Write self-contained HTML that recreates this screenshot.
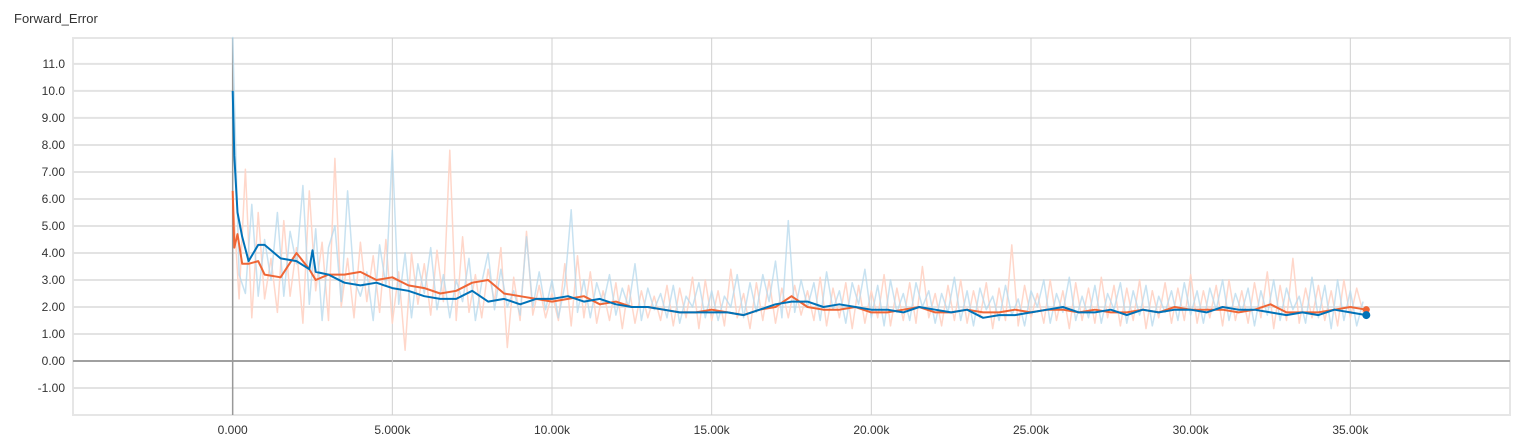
<!DOCTYPE html>
<html><head><meta charset="utf-8"><style>
body{margin:0;background:#fff;font-family:"Liberation Sans",sans-serif;}
svg text{font-family:"Liberation Sans",sans-serif;fill:#333;}
</style></head><body>
<svg id="c" width="1518" height="441" xmlns="http://www.w3.org/2000/svg">
<text x="14" y="23" font-size="13">Forward_Error</text>
<g id="grid"></g><g id="marks"></g><g id="labels"></g>
</svg>
<script>
const yTicks=[-1,0,1,2,3,4,5,6,7,8,9,10,11];
const yTickLabels=["-1.00","0.00","1.00","2.00","3.00","4.00","5.00","6.00","7.00","8.00","9.00","10.0","11.0"];
const xTicks=[0,5000,10000,15000,20000,25000,30000,35000];
const xTickLabels=["0.000","5.000k","10.00k","15.00k","20.00k","25.00k","30.00k","35.00k"];
const rawStep=200;
const rawBlue=[12,3.2,2.5,5.8,2.4,4.5,3.0,5.5,2.4,4.8,
3.6,6.5,2.1,4.9,1.5,4.2,5.0,2.2,6.3,3.0,
2.4,3.3,1.5,4.3,2.8,7.8,2.1,4.0,1.6,3.6,
2.5,4.2,1.9,3.2,1.6,3.0,2.2,3.8,1.5,2.9,
4.0,1.9,3.4,2.0,2.6,1.7,4.6,2.0,3.3,1.9,
3.0,1.6,2.8,5.6,1.8,3.0,1.6,2.9,2.1,3.2,
1.7,2.7,2.0,3.6,1.5,2.7,1.9,2.5,1.6,2.8,
1.4,2.4,2.0,2.9,1.6,2.6,1.5,2.4,2.0,3.2,
1.6,2.9,1.8,3.2,2.2,3.7,1.6,5.2,1.8,3.0,
2.0,2.9,1.5,3.3,1.9,2.6,1.4,2.9,2.1,3.4,
1.6,2.8,1.3,3.0,1.8,2.5,1.5,2.9,2.0,2.6,
1.4,2.5,1.8,3.1,1.5,2.6,1.3,2.7,1.9,2.4,
1.5,2.8,1.7,2.3,1.3,2.6,2.0,3.0,1.4,2.5,
1.8,3.1,1.5,2.4,1.6,2.8,1.4,2.5,1.9,2.9,
1.4,2.6,1.7,2.8,1.3,2.4,1.8,2.6,1.5,2.9,
1.7,2.6,1.4,2.7,1.9,3.0,1.5,2.5,1.8,2.7,
1.3,2.6,1.7,3.0,1.5,2.7,1.9,2.4,1.4,3.1,
1.6,2.8,1.2,3.0,1.5,2.6,1.3,2.2];
const rawOrange=[6.2,2.3,7.1,1.6,5.5,2.3,3.8,1.8,5.2,2.4,
4.2,1.4,6.3,2.6,4.4,1.5,7.5,2.0,3.8,1.6,
4.4,2.2,3.9,1.8,4.5,1.4,3.3,0.4,4.0,2.1,
3.6,1.7,4.1,2.2,7.8,1.5,4.6,1.8,3.2,1.6,
3.4,2.2,4.2,0.5,3.1,1.5,4.8,1.7,2.8,1.6,
2.5,1.5,3.6,1.3,3.9,1.6,3.3,1.4,2.6,1.5,
2.9,1.2,2.8,1.4,2.6,1.6,2.4,1.5,2.8,1.3,
2.7,1.6,3.1,1.2,3.0,1.5,2.6,1.3,3.4,1.6,
2.5,1.2,2.9,1.5,3.0,1.4,2.7,1.6,2.8,1.7,
2.6,1.5,3.1,1.3,2.7,1.6,2.9,1.2,2.8,1.4,
2.6,1.6,3.2,1.3,2.7,1.5,2.9,1.4,3.5,1.6,
2.5,1.3,2.8,1.5,3.0,1.4,2.6,1.6,2.9,1.2,
2.7,1.5,4.3,1.3,2.8,1.6,2.5,1.4,3.0,1.5,
2.6,1.2,2.9,1.5,2.7,1.4,3.1,1.6,2.8,1.3,
2.7,1.5,3.0,1.2,2.6,1.6,2.9,1.4,2.7,1.5,
3.2,1.4,2.6,1.6,2.8,1.3,3.0,1.5,2.6,1.4,
2.9,1.6,3.3,1.2,2.8,1.5,3.8,1.4,2.7,1.6,
2.8,1.5,2.6,1.3,3.0,1.6,2.7,1.8];
const smoothSteps=[0,50,150,300,500,800,1000,1500,2000,2400,2500,2600,3000,3500,4000,4500,5000,5500,6000,6500,7000,7500,8000,8500,9000,9500,10000,10500,11000,11500,12000,12500,13000,13500,14000,14500,15000,15500,16000,16500,17000,17500,18000,18500,19000,19500,20000,20500,21000,21500,22000,22500,23000,23500,24000,24500,25000,25500,26000,26500,27000,27500,28000,28500,29000,29500,30000,30500,31000,31500,32000,32500,33000,33500,34000,34500,35000,35500];
const smoothBlue=[10.0,7.6,5.5,4.6,3.7,4.3,4.3,3.8,3.7,3.4,4.1,3.3,3.2,2.9,2.8,2.9,2.7,2.6,2.4,2.3,2.3,2.6,2.2,2.3,2.1,2.3,2.3,2.4,2.2,2.3,2.1,2.0,2.0,1.9,1.8,1.8,1.8,1.8,1.7,1.9,2.1,2.2,2.2,2.0,2.1,2.0,1.9,1.9,1.8,2.0,1.9,1.8,1.9,1.6,1.7,1.7,1.8,1.9,2.0,1.8,1.8,1.9,1.7,1.9,1.8,1.9,1.9,1.8,2.0,1.9,1.9,1.8,1.7,1.8,1.7,1.9,1.8,1.7];
const smoothOrange=[6.3,4.2,4.7,3.6,3.6,3.7,3.2,3.1,4.0,3.4,3.2,3.0,3.2,3.2,3.3,3.0,3.1,2.8,2.7,2.5,2.6,2.9,3.0,2.5,2.4,2.3,2.2,2.3,2.4,2.1,2.2,2.0,2.0,1.9,1.8,1.8,1.9,1.8,1.7,1.9,2.0,2.4,2.0,1.9,1.9,2.0,1.8,1.8,1.9,2.0,1.8,1.8,1.9,1.8,1.8,1.9,1.8,1.9,1.9,1.8,1.9,1.8,1.8,1.9,1.8,2.0,1.9,1.9,1.9,1.8,1.9,2.1,1.8,1.8,1.8,1.9,2.0,1.9];
const L=73,R=1510,T=38,B=415,X0=-5000,X1=40000,Y0=-2,Y1=11.96;
const sx=v=>L+(v-X0)/(X1-X0)*(R-L);
const sy=v=>B-(v-Y0)/(Y1-Y0)*(B-T);
const NS="http://www.w3.org/2000/svg";
function mk(tag,attrs,parent){const e=document.createElementNS(NS,tag);for(const k in attrs)e.setAttribute(k,attrs[k]);parent.appendChild(e);return e;}
const grid=document.getElementById('grid'),marks=document.getElementById('marks'),labels=document.getElementById('labels');
let fr=mk('rect',{x:L,y:T,width:R-L,height:B-T,fill:'none',stroke:'#e6e6e6','stroke-width':2},grid);


yTicks.forEach((v,i)=>{
 const g=mk('line',{x1:L,x2:R,y1:sy(v),y2:sy(v),stroke:v===0?'#a0a0a0':'#e3e3e3','stroke-width':2},grid);
 
 
 const t=mk('text',{x:L-8,y:sy(v)+4,'font-size':12,'text-anchor':'end'},labels);
 t.textContent=yTickLabels[i];
 
 
});
xTicks.forEach((v,i)=>{
 const g=mk('line',{x1:sx(v),x2:sx(v),y1:T,y2:B,stroke:v===0?'#999':'#d0d0d0','stroke-width':v===0?1.5:1},grid);
 
 
 const t=mk('text',{x:sx(v),y:434,'font-size':12,'text-anchor':'middle'},labels);
 t.textContent=xTickLabels[i];
 
 
});
function path(xs,ys,color,w,op,name){
 const d=ys.map((v,i)=>(i?'L':'M')+sx(xs[i]).toFixed(1)+','+sy(v).toFixed(1)).join('');
 const p=mk('path',{d:d,fill:'none',stroke:color,'stroke-width':w,'stroke-opacity':op,'stroke-linejoin':'round'},marks);
 
 
}
const rbx=rawBlue.map((_,i)=>i*rawStep), rox=rawOrange.map((_,i)=>i*rawStep);
path(rox,rawOrange,'#ffd3c4',1.5,0.9,'orange-raw-series');
path(rbx,rawBlue,'#b5d8ec',1.5,0.75,'blue-raw-series');
path(smoothSteps,smoothOrange,'#ef6636',2,1,'orange-smoothed-series');
path(smoothSteps,smoothBlue,'#0072b8',2,1,'blue-smoothed-series');
const lo=smoothSteps.length-1;
let d1=mk('circle',{cx:sx(smoothSteps[lo]),cy:sy(smoothOrange[lo]),r:3.5,fill:'#ef6636'},marks);


let d2=mk('circle',{cx:sx(smoothSteps[lo]),cy:sy(smoothBlue[lo]),r:4,fill:'#0072b8'},marks);


</script>
</body></html>
